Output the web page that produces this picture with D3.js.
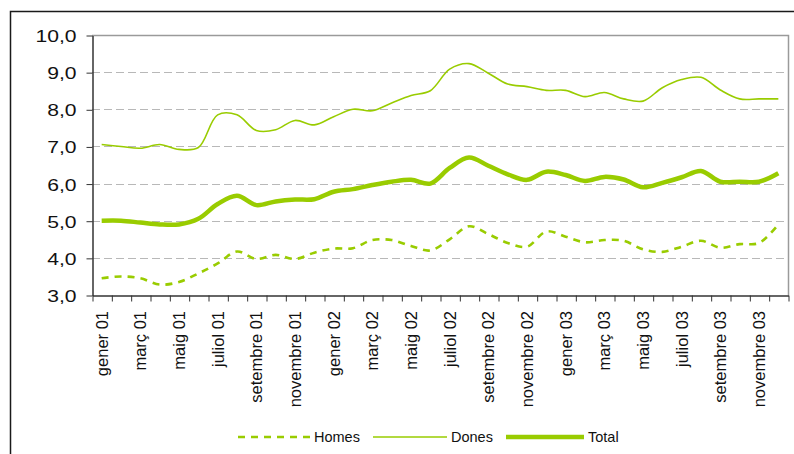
<!DOCTYPE html>
<html>
<head>
<meta charset="utf-8">
<script src="https://cdn.jsdelivr.net/npm/d3@7"></script>
<style>
  html, body { margin: 0; padding: 0; background: #fff; }
  svg { display: block; }
</style>
</head>
<body>
<div id="chart"></div>
<script>
'use strict';

const monthNames = ['gener', 'febrer', 'març', 'abril', 'maig', 'juny', 'juliol', 'agost', 'setembre', 'octubre', 'novembre', 'desembre'];
const years = ['01', '02', '03'];
const months = [];
years.forEach(function(yy) {
  monthNames.forEach(function(m) { months.push(m + ' ' + yy); });
});

const homes = [3.45, 3.5, 3.45, 3.28, 3.35, 3.58, 3.85, 4.17, 3.97, 4.08, 3.97, 4.14,
  4.25, 4.26, 4.48, 4.48, 4.32, 4.2, 4.5, 4.85, 4.64, 4.4, 4.3, 4.71,
  4.57, 4.42, 4.48, 4.46, 4.23, 4.16, 4.3, 4.46, 4.27, 4.37, 4.4, 4.9];
const dones = [7.05, 7.0, 6.95, 7.05, 6.92, 6.97, 7.85, 7.85, 7.43, 7.45, 7.7, 7.58,
  7.8, 8.0, 7.96, 8.17, 8.37, 8.5, 9.08, 9.23, 8.97, 8.68, 8.61, 8.51,
  8.51, 8.34, 8.45, 8.28, 8.22, 8.58, 8.8, 8.86, 8.52, 8.28, 8.28, 8.28];
const total = [5.0, 5.0, 4.95, 4.9, 4.9, 5.05, 5.45, 5.67, 5.42, 5.52, 5.57, 5.58,
  5.78, 5.85, 5.96, 6.05, 6.1, 6.0, 6.42, 6.7, 6.48, 6.25, 6.1, 6.32,
  6.23, 6.07, 6.18, 6.11, 5.9, 6.02, 6.17, 6.34, 6.05, 6.05, 6.05, 6.28];
const yTicks = [3, 4, 5, 6, 7, 8, 9, 10];

const W = 794;
const H = 454;
const green = '#99cc00';
const font = 'font-family: Arial, "Liberation Sans", sans-serif;';

const pLeft = 92, pRight = 788, pTop = 35, pBottom = 295;

let svg = d3.select('#chart').append('svg:svg')
  .attr('width', W)
  .attr('height', H);

// outer frame of the chart object
svg.append('svg:path')
  .attr('d', 'M10.5,' + H + 'V11.5H' + W)
  .attr('fill', 'none')
  .attr('stroke', '#1a1a1a')
  .attr('stroke-width', 1.5);

let x = d3.scaleBand().domain(months).range([pLeft, pRight]);
let xi = d3.scaleLinear().domain([0, months.length]).range([pLeft, pRight]);
let y = d3.scaleLinear().domain([3, 10]).range([pBottom, pTop]);

// gridlines
svg.append('svg:g')
  .selectAll('line')
  .data(yTicks.filter(function(d) { return d > 3 && d < 10; }))
  .enter().append('svg:line')
  .attr('x1', pLeft).attr('x2', pRight)
  .attr('y1', function(d) { return Math.round(y(d)) + 0.5; })
  .attr('y2', function(d) { return Math.round(y(d)) + 0.5; })
  .attr('stroke', '#b8b8b8')
  .attr('stroke-width', 1)
  .attr('stroke-dasharray', '8,4');

// plot border top / right
svg.append('svg:path')
  .attr('d', 'M' + pLeft + ',' + (pTop + 0.5) + 'H' + (pRight + 0.5) + 'V' + pBottom)
  .attr('fill', 'none')
  .attr('stroke', '#9a9a9a')
  .attr('stroke-width', 1.5);

// y axis
let yAxis = svg.append('svg:g')
  .attr('transform', 'translate(' + (pLeft + 0.5) + ',0.5)')
  .call(d3.axisLeft(y).tickValues(yTicks).tickSize(6).tickSizeOuter(0)
    .tickFormat(function(d) { return d.toFixed(1).replace('.', ','); }));
yAxis.select('.domain').attr('stroke', '#333').attr('stroke-width', 1.5);
yAxis.selectAll('.tick line').attr('stroke', '#333');
yAxis.selectAll('.tick text')
  .attr('x', 0).attr('dy', '0.36em')
  .attr('style', font + ' font-size: 16.5px; fill: #111;')
  .attr('transform', 'translate(-16,0) scale(1.28,1)');

// x axis: ticks between categories
let xAxis = svg.append('svg:g')
  .attr('transform', 'translate(0.5,' + (pBottom + 0.5) + ')')
  .call(d3.axisBottom(xi).tickValues(d3.range(months.length + 1)).tickSize(6).tickSizeOuter(0)
    .tickFormat(''));
xAxis.select('.domain').attr('stroke', '#333').attr('stroke-width', 1.5);
xAxis.selectAll('.tick line').attr('stroke', '#333');

svg.append('svg:g')
  .selectAll('text')
  .data(months.filter(function(d, i) { return i % 2 == 0; }))
  .enter().append('svg:text')
  .attr('transform', function(d) {
    return 'translate(' + (x(d) + x.bandwidth() / 2 + 6) + ',' + (pBottom + 16) + ') rotate(-90)';
  })
  .attr('text-anchor', 'end')
  .attr('style', font + ' font-size: 16.5px; fill: #111;')
  .text(function(d) { return d; });

// series
let line = d3.line()
  .x(function(d, i) { return x(months[i]) + x.bandwidth() / 2; })
  .y(function(d) { return y(d); })
  .curve(d3.curveCatmullRom.alpha(0.5));

const series = [
  { name: 'Homes', values: homes, width: 2.6, dash: '7,6' },
  { name: 'Dones', values: dones, width: 1.6, dash: null },
  { name: 'Total', values: total, width: 4.5, dash: null }
];

series.forEach(function(s) {
  svg.append('svg:path')
    .datum(s.values)
    .attr('d', line)
    .attr('fill', 'none')
    .attr('stroke', green)
    .attr('stroke-width', s.width)
    .attr('stroke-linejoin', 'round')
    .attr('stroke-dasharray', s.dash);
});

// legend
const legendX = [238, 373, 506];
const legendLen = [72, 74, 78];
const legendY = 437;
series.forEach(function(s, i) {
  let g = svg.append('svg:g');
  g.append('svg:line')
    .attr('x1', legendX[i]).attr('x2', legendX[i] + legendLen[i])
    .attr('y1', legendY).attr('y2', legendY)
    .attr('stroke', green)
    .attr('stroke-width', s.width)
    .attr('stroke-dasharray', s.dash);
  g.append('svg:text')
    .attr('x', legendX[i] + legendLen[i] + 4)
    .attr('y', legendY + 5)
    .attr('style', font + ' font-size: 14.5px; fill: #111;')
    .text(s.name);
});
</script>
</body>
</html>
